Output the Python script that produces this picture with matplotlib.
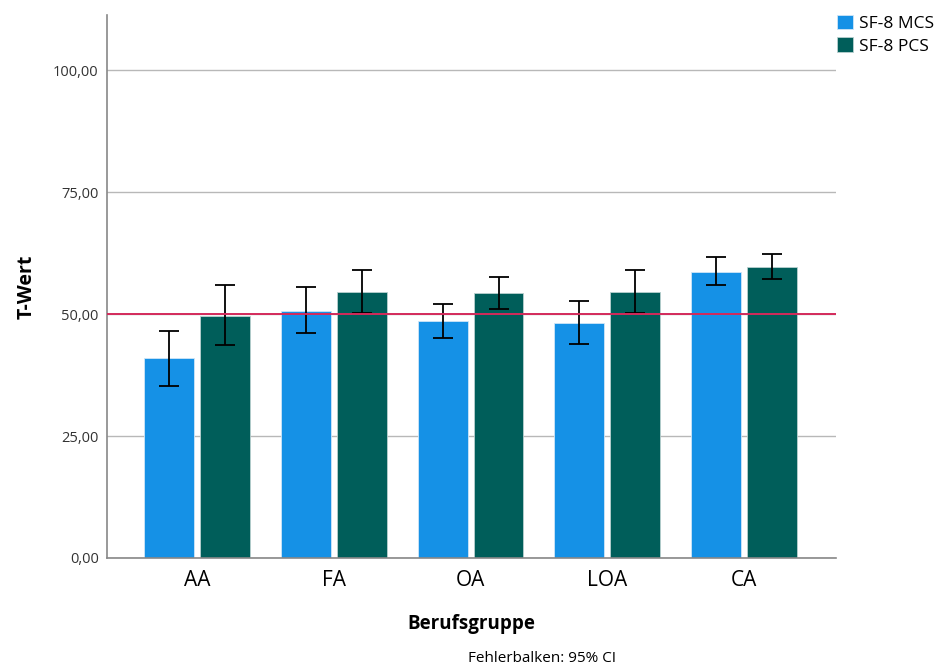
import numpy as np
import matplotlib.pyplot as plt
from matplotlib.ticker import FuncFormatter

# T-Werte je Berufsgruppe mit 95%-Konfidenzintervall
gruppen = ['AA', 'FA', 'OA', 'LOA', 'CA']
mcs = [41.0, 50.7, 48.5, 48.2, 58.7]
mcs_lo = [35.2, 46.2, 45.1, 43.8, 56.0]
mcs_hi = [46.5, 55.5, 52.0, 52.7, 61.6]
pcs = [49.7, 54.6, 54.3, 54.6, 59.7]
pcs_lo = [43.6, 50.2, 51.1, 50.3, 57.1]
pcs_hi = [55.9, 59.0, 57.6, 59.0, 62.4]

plt.rcParams['font.family'] = ['Open Sans', 'DejaVu Sans']

fig = plt.figure(figsize=(9.41, 6.68), dpi=100)
ax = fig.add_axes([0.1137, 0.1647, 0.7743, 0.8128])

x = np.arange(len(gruppen))
w = 0.365
off = 0.204

def err(vals, lo, hi):
    vals = np.array(vals)
    return [vals - np.array(lo), np.array(hi) - vals]

ax.bar(x - off, mcs, w, color='#1591E6', edgecolor='#cfe6f7', linewidth=0.6,
       label='SF-8 MCS', zorder=2)
ax.bar(x + off, pcs, w, color='#005E5A', edgecolor='#b9d0cf', linewidth=0.6,
       label='SF-8 PCS', zorder=2)
ax.errorbar(x - off, mcs, yerr=err(mcs, mcs_lo, mcs_hi), fmt='none',
            ecolor='black', elinewidth=1.3, capsize=7, capthick=1.3, zorder=3)
ax.errorbar(x + off, pcs, yerr=err(pcs, pcs_lo, pcs_hi), fmt='none',
            ecolor='black', elinewidth=1.3, capsize=7, capthick=1.3, zorder=3)

# Referenzlinie bei T = 50
ax.axhline(50, color='#D42A5B', linewidth=1.4, zorder=4)

ax.set_xlim(-0.66, 4.67)
ax.set_ylim(0, 111.3)
ax.set_yticks([0, 25, 50, 75, 100])
ax.yaxis.set_major_formatter(FuncFormatter(lambda v, p: f'{v:.2f}'.replace('.', ',')))
ax.yaxis.grid(True, color='#b8b8b8', linewidth=1.0, zorder=0)
ax.set_axisbelow(True)

ax.set_xticks(x)
ax.set_xticklabels(gruppen, fontsize=15)
ax.tick_params(axis='x', length=0, pad=9)
ax.tick_params(axis='y', length=0, labelsize=10.5, colors='#333333', pad=6)

for s in ['top', 'right']:
    ax.spines[s].set_visible(False)
for s in ['left', 'bottom']:
    ax.spines[s].set_color('#888888')
    ax.spines[s].set_linewidth(1.2)

ax.set_ylabel('T-Wert', fontsize=14, fontweight='bold', labelpad=12)
ax.set_xlabel('Berufsgruppe', fontsize=13.5, fontweight='bold', labelpad=16)

fig.legend(loc='upper left', bbox_to_anchor=(0.882, 0.988), frameon=False,
           fontsize=12.5, handlelength=0.9, handleheight=0.9, handletextpad=0.4,
           labelspacing=0.3, borderaxespad=0)

fig.text(0.497, 0.003, 'Fehlerbalken: 95% CI', fontsize=11, ha='left', va='bottom')

fig.savefig('out.png', dpi=100)
